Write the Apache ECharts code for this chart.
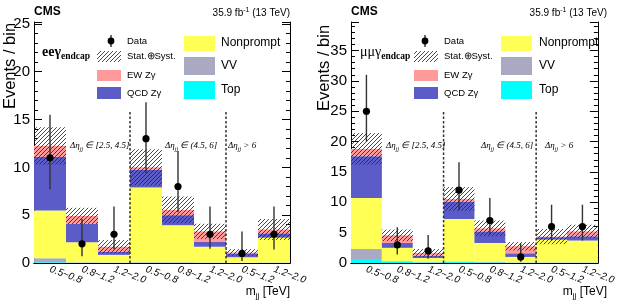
<!DOCTYPE html>
<html>
<head>
<meta charset="utf-8">
<script src="https://cdn.jsdelivr.net/npm/echarts@6/dist/echarts.min.js"></script>
<style>
  html, body { margin: 0; padding: 0; background: #fff; }
  #chart { width: 618px; height: 305px; }
</style>
</head>
<body>
<div id="chart"></div>
<script>
// bin labels (m_jj ranges in TeV), three delta-eta regions
const bins = ['0.5~0.8', '0.8~1.2', '1.2~2.0', '0.5~0.8', '0.8~1.2', '1.2~2.0', '0.5~1.2', '1.2~2.0'];
const regionLabels = ['[2.5, 4.5]', '(4.5, 6]', '> 6'];
const regionEdges = [3, 6];

// ee gamma endcap
const eeTop       = [0.08, 0.02, 0.02, 0.03, 0.02, 0.02, 0.01, 0.02];
const eeVV        = [0.42, 0.05, 0.03, 0.05, 0.05, 0.03, 0.02, 0.03];
const eeNonprompt = [4.98, 2.10, 0.80, 7.82, 3.88, 1.65, 0.57, 2.60];
const eeQcd       = [5.62, 1.95, 0.35, 1.85, 1.05, 0.50, 0.40, 0.45];
const eeEw        = [1.15, 0.80, 0.50, 0.25, 0.55, 1.10, 0.10, 0.40];
const eeUnc       = [1.95, 0.85, 0.70, 1.90, 1.40, 0.80, 0.35, 1.10];
const eeData      = [11, 2, 3, 13, 8, 3, 1, 3];
const eeDataLo    = [7.7, 0.7, 1.4, 9.4, 5.3, 1.5, 0.2, 1.4];
const eeDataHi    = [15.5, 4.6, 5.9, 16.8, 11.7, 5.9, 3.3, 5.9];

// mumu gamma endcap
const mmTop       = [0.66, 0.20, 0.10, 0.15, 0.10, 0.05, 0.05, 0.05];
const mmVV        = [1.64, 0.10, 0.05, 0.10, 0.10, 0.05, 0.05, 0.05];
const mmNonprompt = [8.40, 2.20, 0.67, 7.00, 3.10, 0.90, 3.75, 3.60];
const mmQcd       = [6.90, 0.80, 0.38, 2.80, 1.90, 0.60, 0.40, 0.70];
const mmEw        = [1.20, 1.25, 0.45, 0.50, 0.50, 1.15, 0.10, 0.80];
const mmUnc       = [2.60, 0.95, 0.65, 1.95, 1.30, 0.70, 1.25, 1.10];
const mmData      = [25, 3, 2, 12, 7, 1, 6, 6];
const mmDataLo    = [20.0, 1.4, 0.7, 8.7, 4.7, 0.2, 3.7, 3.7];
const mmDataHi    = [31.0, 5.9, 4.6, 16.6, 10.7, 3.2, 9.6, 9.6];

const compNames = ['Top', 'VV', 'Nonprompt', 'QCD Z\u03b3', 'EW Z\u03b3'];
const compColors = ['#00ffff', '#a9a9c2', '#ffff55', '#5c5cc8', '#ff9a9a'];

const sans = 'Liberation Sans, Arial, sans-serif';
const serif = 'Liberation Serif, Times New Roman, serif';

// diagonal hatch used for the Stat.+Syst. band
function makeHatch() {
  const c = document.createElement('canvas');
  c.width = 4; c.height = 4;
  const g = c.getContext('2d');
  g.strokeStyle = 'rgba(40,40,40,0.85)';
  g.lineWidth = 1;
  g.beginPath();
  g.moveTo(0, 4); g.lineTo(4, 0);
  g.moveTo(-1, 1); g.lineTo(1, -1);
  g.moveTo(3, 5); g.lineTo(5, 3);
  g.stroke();
  return { image: c, repeat: 'repeat' };
}
const hatch = makeHatch();

const panels = [
  {
    left: 34, top: 22, width: 256, height: 241, ymax: 25.2, dashTop: 15.8,
    comps: [eeTop, eeVV, eeNonprompt, eeQcd, eeEw], unc: eeUnc,
    data: eeData, lo: eeDataLo, hi: eeDataHi,
    channel: 'ee\u03b3', channelBold: true, chX: 42,
    titleX: 10, titleY: 66,
    regionX: [70, 165, 228],
    leg: { mark: 111, text1: 127, box1: 97, box2: 184, text2: 221 }
  },
  {
    left: 351, top: 22, width: 256, height: 241, ymax: 39.7, dashTop: 24.9,
    comps: [mmTop, mmVV, mmNonprompt, mmQcd, mmEw], unc: mmUnc,
    data: mmData, lo: mmDataLo, hi: mmDataHi,
    channel: '\u03bc\u03bc\u03b3', channelBold: false, chX: 360,
    titleX: 324, titleY: 68,
    regionX: [386, 481, 545],
    leg: { mark: 425, text1: 444, box1: 414, box2: 501, text2: 539 }
  }
];

const grid = [], xAxis = [], yAxis = [], series = [], graphic = [];

panels.forEach((p, k) => {
  grid.push({ left: p.left, top: p.top, width: p.width, height: p.height });

  const catAxis = (pos, labels) => ({
    type: 'category', gridIndex: k, position: pos, data: bins,
    boundaryGap: true,
    axisLine: { lineStyle: { color: '#000', width: 1 } },
    axisTick: { inside: true, length: 6, lineStyle: { color: '#000' } },
    axisLabel: labels ? {
      show: true, interval: 0, rotate: -20, margin: 6,
      fontSize: 10, fontFamily: sans, fontStyle: 'italic', color: '#000'
    } : { show: false },
    splitLine: { show: false }
  });
  xAxis.push(catAxis('bottom', true));
  xAxis.push(catAxis('top', false));
  xAxis.push({ type: 'value', gridIndex: k, min: 0, max: 8, show: false });

  const valAxis = (pos, labels) => ({
    type: 'value', gridIndex: k, position: pos, min: 0, max: p.ymax, interval: 5,
    axisLine: { show: true, lineStyle: { color: '#000', width: 1 } },
    axisTick: { show: true, inside: true, length: 8, lineStyle: { color: '#000' } },
    minorTick: { show: true, splitNumber: 5, length: 4, lineStyle: { color: '#000' } },
    axisLabel: labels ? {
      show: true, margin: 4, fontSize: 15, fontFamily: sans, color: '#000',
      formatter: v => (Math.abs(v % 5) < 1e-6 ? String(v) : '')
    } : { show: false },
    splitLine: { show: false }
  });
  yAxis.push(valAxis('left', true));
  yAxis.push(valAxis('right', false));

  // stacked backgrounds
  compNames.forEach((name, c) => {
    series.push({
      type: 'bar', name, stack: 'st' + k,
      xAxisIndex: 3 * k, yAxisIndex: 2 * k,
      data: p.comps[c], barCategoryGap: '0%', barGap: '0%',
      itemStyle: { color: compColors[c] }, silent: true, z: 2
    });
  });

  // stat+syst band around the total
  const totals = bins.map((_, i) => p.comps.reduce((s, arr) => s + arr[i], 0));
  series.push({
    type: 'custom', xAxisIndex: 3 * k + 2, yAxisIndex: 2 * k, z: 3, silent: true,
    data: bins.map((_, i) => [i, totals[i] - p.unc[i], totals[i] + p.unc[i]]),
    encode: { x: 0, y: [1, 2] },
    renderItem: (params, api) => {
      const a = api.coord([api.value(0), api.value(1)]);
      const b = api.coord([api.value(0) + 1, api.value(2)]);
      return {
        type: 'rect',
        shape: { x: a[0], y: b[1], width: b[0] - a[0], height: a[1] - b[1] },
        style: { fill: hatch }
      };
    }
  });

  // region separators
  series.push({
    type: 'custom', xAxisIndex: 3 * k + 2, yAxisIndex: 2 * k, z: 4, silent: true,
    data: regionEdges.map(e => [e, p.dashTop]),
    renderItem: (params, api) => {
      const a = api.coord([api.value(0), 0]);
      const b = api.coord([api.value(0), api.value(1)]);
      return {
        type: 'line',
        shape: { x1: a[0], y1: a[1], x2: b[0], y2: b[1] },
        style: { stroke: '#333', lineWidth: 1.5, lineDash: [2.5, 2] }
      };
    }
  });

  // data points with error bars
  series.push({
    type: 'custom', xAxisIndex: 3 * k + 2, yAxisIndex: 2 * k, z: 5, silent: true,
    data: p.data.map((n, i) => [i + 0.5, n, p.lo[i], p.hi[i]]),
    encode: { x: 0, y: [1, 2, 3] },
    renderItem: (params, api) => {
      const c = api.coord([api.value(0), api.value(1)]);
      const lo = api.coord([api.value(0), api.value(2)]);
      const hi = api.coord([api.value(0), api.value(3)]);
      return {
        type: 'group',
        children: [
          { type: 'line', shape: { x1: c[0], y1: lo[1], x2: c[0], y2: hi[1] },
            style: { stroke: '#333', lineWidth: 1.4 } },
          { type: 'circle', shape: { cx: c[0], cy: c[1], r: 3.6 }, style: { fill: '#000' } }
        ]
      };
    }
  });

  // texts
  const right = p.left + p.width;
  graphic.push({
    type: 'text', left: p.left, top: 6,
    style: { text: 'CMS', font: 'bold 12px ' + sans, fill: '#000' }
  });
  graphic.push({
    type: 'text', x: right, y: 13,
    style: {
      text: '{a|35.9 fb}{s|-1}{a| (13 TeV)}', align: 'right', verticalAlign: 'middle',
      rich: {
        a: { fontSize: 10, fontFamily: sans, fill: '#000' },
        s: { fontSize: 7, fontFamily: sans, fill: '#000', padding: [0, 0, 6, 0] }
      }
    }
  });
  graphic.push({
    type: 'text', x: p.titleX, y: p.titleY, rotation: Math.PI / 2,
    style: {
      text: 'Events / bin', align: 'center', verticalAlign: 'middle',
      font: '16.5px ' + sans, fill: '#000'
    }
  });
  graphic.push({
    type: 'text', x: right, y: 292,
    style: {
      text: '{a|m}{s|jj}{a| [TeV]}', align: 'right', verticalAlign: 'middle',
      rich: {
        a: { fontSize: 12, fontFamily: sans, fill: '#000' },
        s: { fontSize: 8, fontFamily: sans, fill: '#000', padding: [7, 0, 0, 0] }
      }
    }
  });
  graphic.push({
    type: 'text', x: p.chX, y: 52,
    style: {
      text: '{a|' + p.channel + '}{s|endcap}', verticalAlign: 'middle',
      rich: {
        a: { fontSize: 14, fontFamily: serif, fontWeight: p.channelBold ? 'bold' : 'normal', fill: '#000' },
        s: { fontSize: 9.5, fontFamily: serif, fontWeight: 'bold', fill: '#000', padding: [9, 0, 0, 0] }
      }
    }
  });
  regionLabels.forEach((lab, r) => {
    const rel = r === 2 ? ' ' : ' \u2208 ';
    graphic.push({
      type: 'text', x: p.regionX[r], y: 146,
      style: {
        text: '{a|\u0394\u03b7}{s|jj}{a|' + rel + lab + '}', verticalAlign: 'middle',
        rich: {
          a: { fontSize: 9, fontFamily: serif, fontStyle: 'italic', fill: '#000' },
          s: { fontSize: 6, fontFamily: serif, fontStyle: 'italic', fill: '#000', padding: [7, 0, 0, 0] }
        }
      }
    });
  });

  // legend
  const L = p.leg;
  graphic.push({ type: 'line', shape: { x1: L.mark, y1: 35, x2: L.mark, y2: 47 }, style: { stroke: '#000', lineWidth: 1.2 } });
  graphic.push({ type: 'circle', shape: { cx: L.mark, cy: 41, r: 3.4 }, style: { fill: '#000' } });
  const leftItems = [
    { label: 'Data', y: 41 },
    { label: 'Stat.\u2295Syst.', y: 56, fill: hatch, box: [51, 11] },
    { label: 'EW Z\u03b3', y: 75, fill: compColors[4], box: [70, 11] },
    { label: 'QCD Z\u03b3', y: 93, fill: compColors[3], box: [87, 12] }
  ];
  leftItems.forEach(it => {
    if (it.box) {
      graphic.push({ type: 'rect', shape: { x: L.box1, y: it.box[0], width: 24, height: it.box[1] }, style: { fill: it.fill } });
    }
    graphic.push({
      type: 'text', x: L.text1, y: it.y,
      style: { text: it.label, verticalAlign: 'middle', font: '9.5px ' + sans, fill: '#000' }
    });
  });
  const rightItems = [
    { label: 'Nonprompt', y: 43, fill: compColors[2], box: [36, 15] },
    { label: 'VV', y: 66, fill: compColors[1], box: [57, 18] },
    { label: 'Top', y: 90, fill: compColors[0], box: [81, 18] }
  ];
  rightItems.forEach(it => {
    graphic.push({ type: 'rect', shape: { x: L.box2, y: it.box[0], width: 31, height: it.box[1] }, style: { fill: it.fill } });
    graphic.push({
      type: 'text', x: L.text2, y: it.y,
      style: { text: it.label, verticalAlign: 'middle', font: '12px ' + sans, fill: '#000' }
    });
  });
});

const chart = echarts.init(document.getElementById('chart'));
chart.setOption({
  animation: false,
  backgroundColor: '#fff',
  grid, xAxis, yAxis, series, graphic
});
</script>
</body>
</html>
